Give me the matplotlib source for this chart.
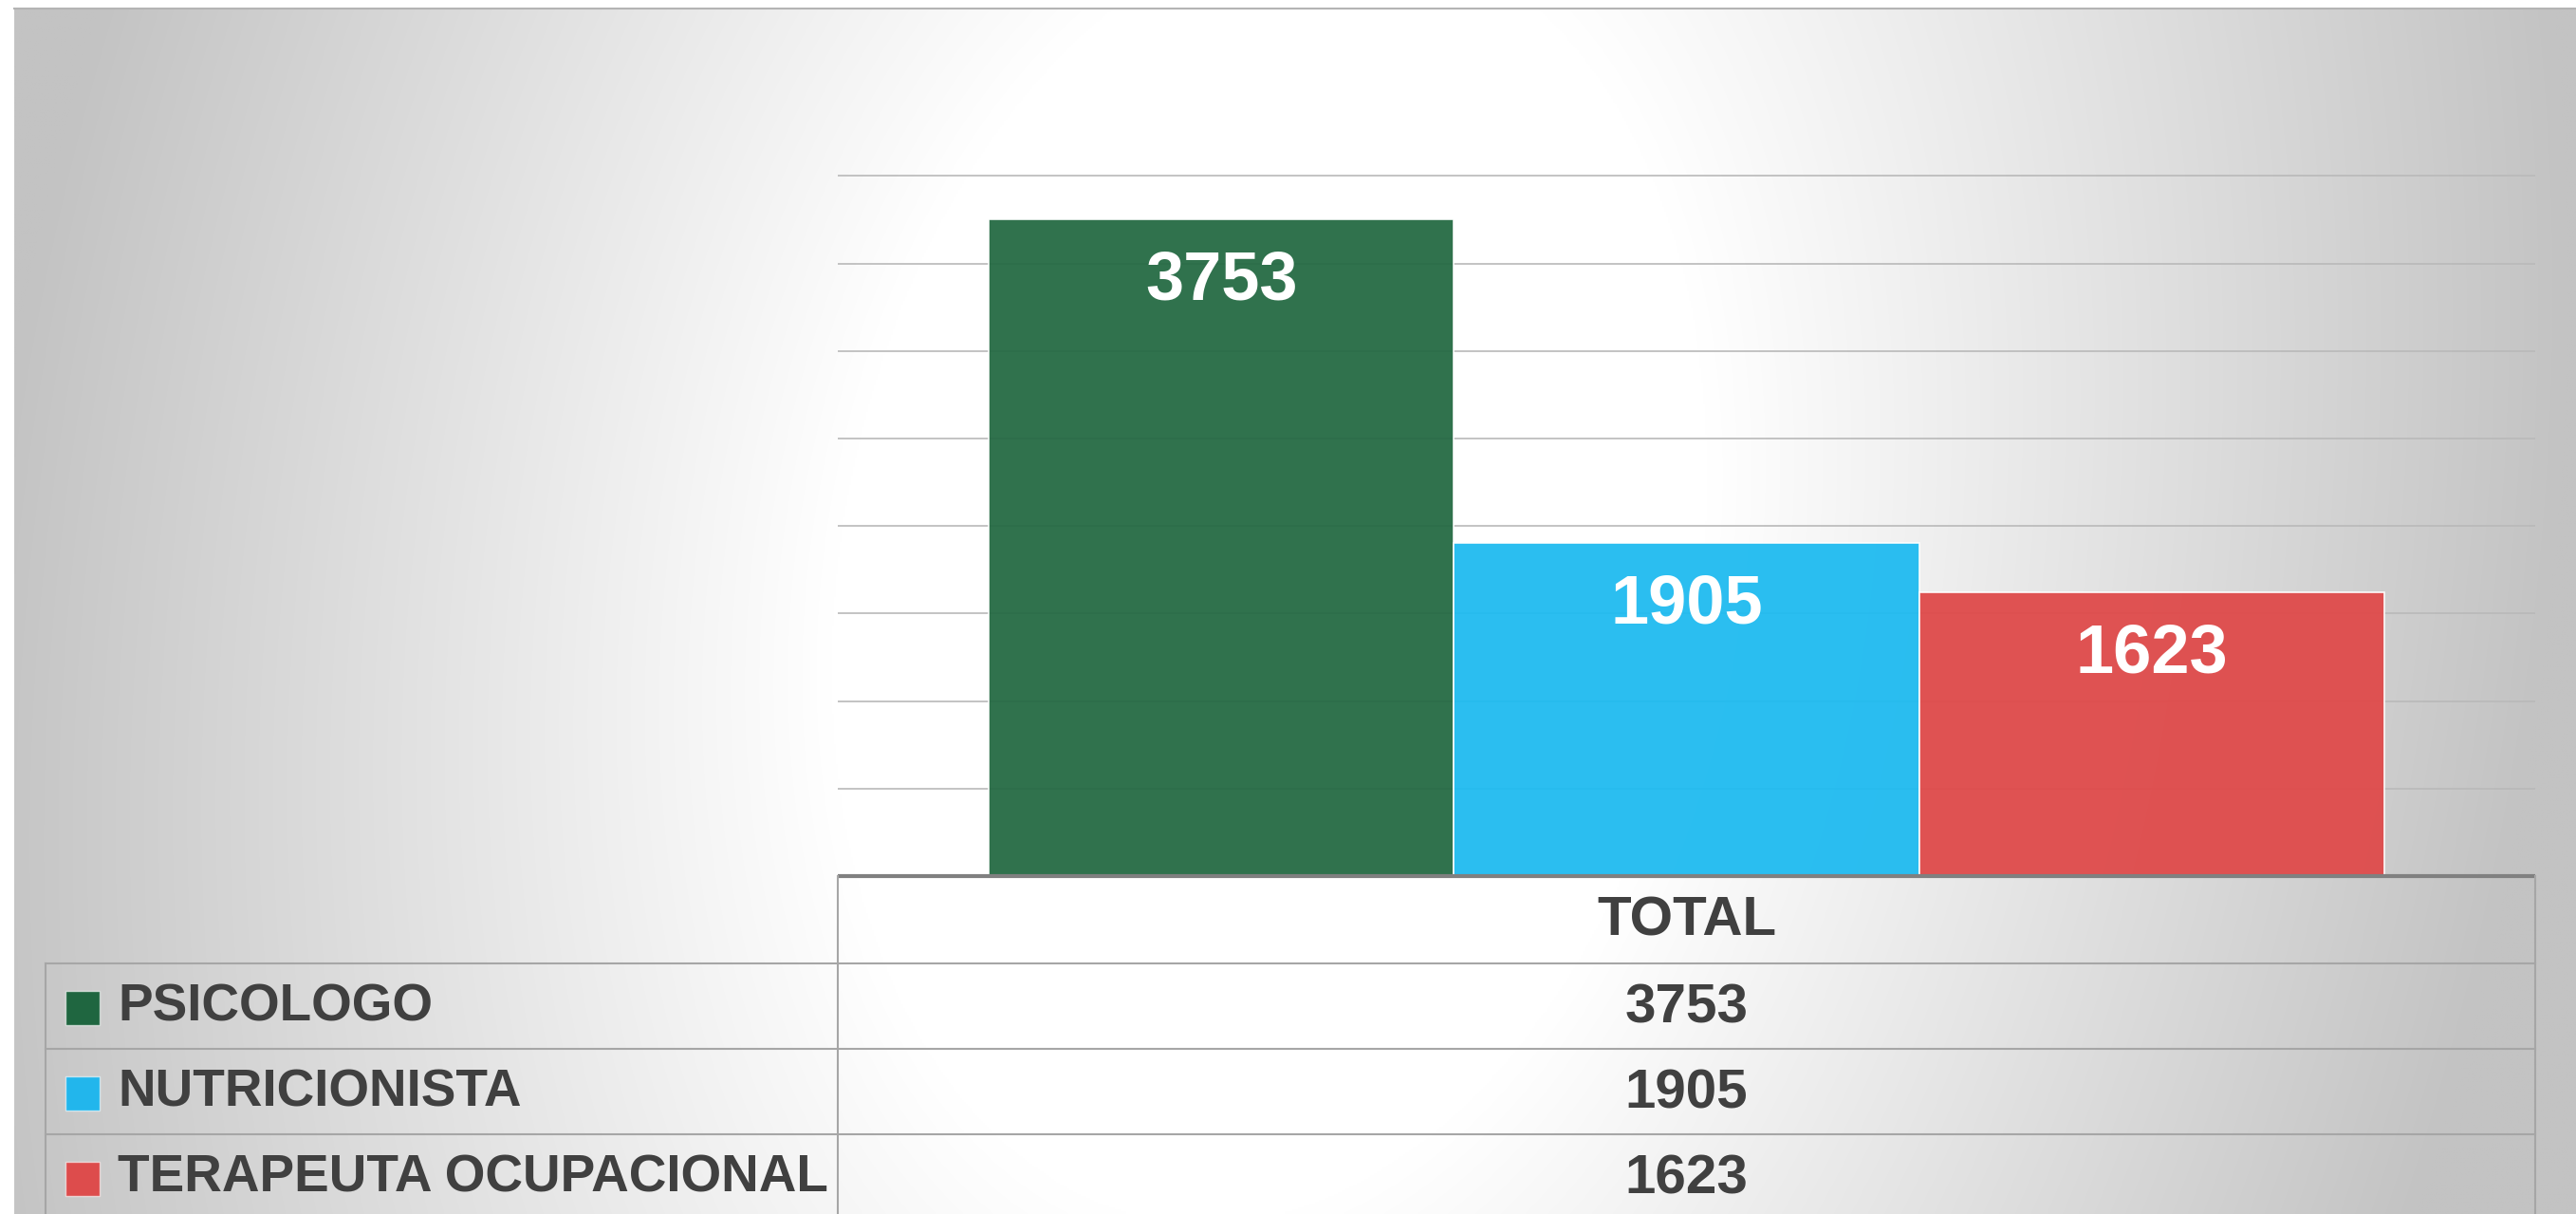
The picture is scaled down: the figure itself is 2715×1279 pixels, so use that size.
import numpy as np
import matplotlib.pyplot as plt
from matplotlib.patches import Rectangle

categories = ['PSICOLOGO', 'NUTRICIONISTA', 'TERAPEUTA OCUPACIONAL']
values = [3753, 1905, 1623]
colors = ['#256A43', '#1FBBF0', '#DF4A4A']
key_colors = ['#1F6640', '#22B6EC', '#DD4C4C']
column_label = 'TOTAL'

W, H = 2715, 1279
DPI = 100
plt.rcParams['font.family'] = ['Liberation Sans', 'DejaVu Sans']
text_col = '#404040'

fig = plt.figure(figsize=(W / DPI, H / DPI), dpi=DPI, facecolor='white')

# background: elliptical grey-to-white gradient, chart area starts at (15, 8)
bg = fig.add_axes([0, 0, 1, 1], zorder=0)
bg.set_xlim(0, W)
bg.set_ylim(H, 0)
bg.axis('off')
yy, xx = np.mgrid[0:H:2, 0:W:2]
r = np.hypot(xx - 1330 + (yy - 600) * 0.1, (yy - 600) / 1.5)
t = np.clip((r - 460) / 900, 0, 1)
shade = 1.0 - t * (1.0 - 0xC3 / 255)
img = np.dstack([shade, shade, shade])
bg.imshow(img, extent=(15, W, H, 8), aspect='auto', interpolation='bilinear')
bg.plot([15, W], [8.5, 8.5], color='#B4B4B4', lw=1.5)

# bar chart
base_px = 923
px_per_unit = 692 / 3753
ymax = 4100
ax_h = ymax * px_per_unit
ax = fig.add_axes([883 / W, 1 - base_px / H, 1789 / W, ax_h / H], zorder=1)
ax.patch.set_alpha(0)
ax.set_xlim(-0.5, 0.5)
ax.set_ylim(0, ymax)
for s in ax.spines.values():
    s.set_visible(False)
ax.set_xticks([])
ax.set_yticks(np.arange(500, 4001, 500))
ax.tick_params(axis='y', length=0, labelleft=False)
ax.yaxis.grid(True, color='#B9B9B9', lw=1.2, zorder=2)

n = len(values)
bw = 1 / (n + 0.65)
offsets = (np.arange(n) - (n - 1) / 2) * bw
bars = ax.bar(offsets, values, width=bw, color=colors, alpha=0.95,
              edgecolor=(1, 1, 1, 0.5), linewidth=1.2, zorder=3)
for b, v in zip(bars, values):
    ax.annotate(str(v), (b.get_x() + b.get_width() / 2, v),
                xytext=(0, -47), textcoords='offset points',
                ha='center', va='center', fontsize=52, fontweight='bold',
                color='white', zorder=4)

# data table drawn in pixel coordinates
tb = fig.add_axes([0, 0, 1, 1], zorder=2)
tb.patch.set_alpha(0)
tb.set_xlim(0, W)
tb.set_ylim(H, 0)
tb.axis('off')
line_col = '#A6A6A6'
left, mid, right = 48, 883, 2672
rows = [923, 1015, 1105, 1195, 1285]
tb.plot([mid, right], [923, 923], color='#808080', lw=3, solid_capstyle='butt')
for y in rows[1:4]:
    tb.plot([left, right], [y, y], color=line_col, lw=1.5)
tb.plot([mid, mid], [923, H], color=line_col, lw=1.5)
tb.plot([right, right], [923, H], color=line_col, lw=1.5)
tb.plot([left, left], [1015, H], color=line_col, lw=1.5)

tb.text((mid + right) / 2, (rows[0] + rows[1]) / 2 + 2, column_label,
        ha='center', va='center', fontsize=42, fontweight='bold', color=text_col)
for i, (cat, v) in enumerate(zip(categories, values)):
    yc = (rows[i + 1] + rows[i + 2]) / 2 + 2
    tb.add_patch(Rectangle((69, yc - 18), 36, 36, facecolor=key_colors[i],
                           edgecolor=(1, 1, 1, 0.6), lw=1))
    tb.text(124, yc, cat, ha='left', va='center', fontsize=39.5,
            fontweight='bold', color=text_col)
    tb.text((mid + right) / 2, yc, str(v), ha='center', va='center',
            fontsize=42, fontweight='bold', color=text_col)

fig.savefig('out.png', dpi=DPI, facecolor=fig.get_facecolor())
